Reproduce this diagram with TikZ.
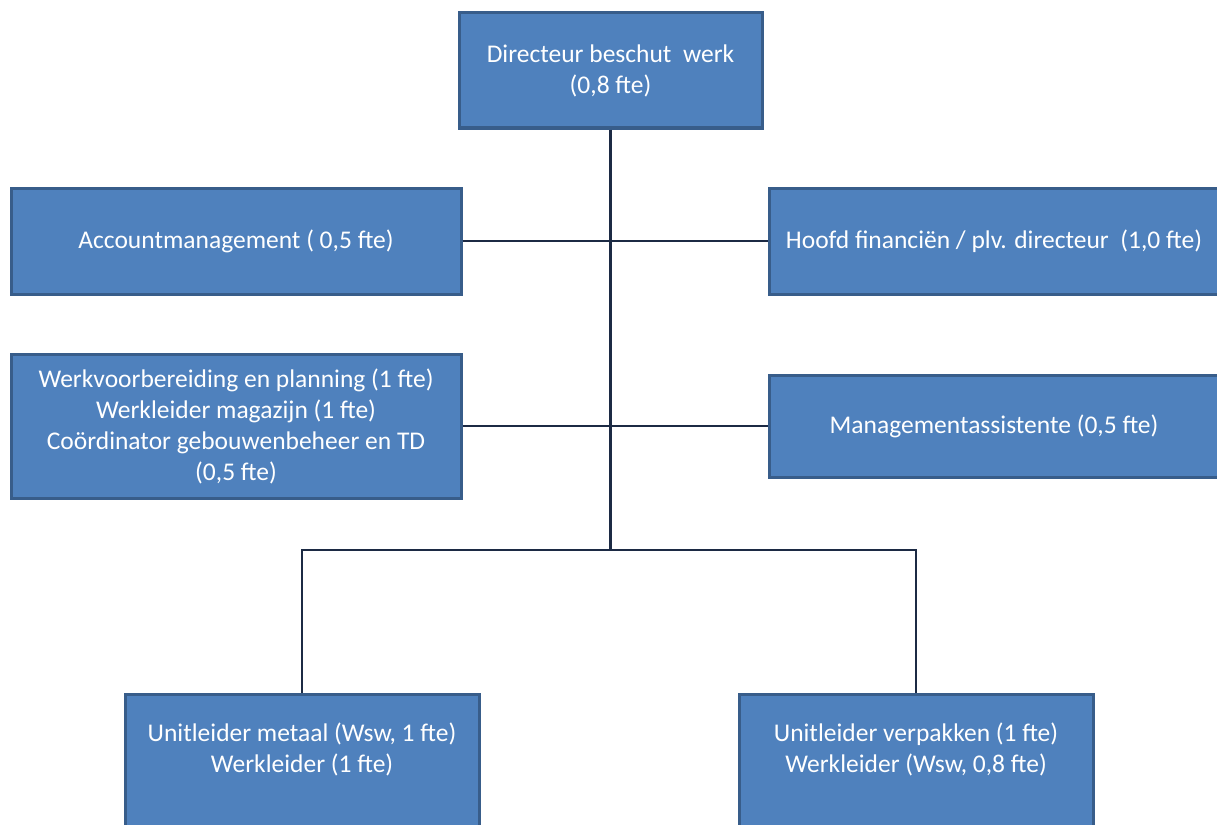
\documentclass[tikz,border=0pt]{standalone}
\usepackage{fontspec}
\setmainfont{Carlito}
\usepackage{tikz}
\usetikzlibrary{positioning}
\definecolor{BoxFill}{HTML}{4F81BD}
\definecolor{BoxLine}{HTML}{385D8A}
\definecolor{EdgeLine}{HTML}{1C2A44}
\tikzset{
  BoxStyle/.style={draw=BoxLine,fill=BoxFill,line width=3pt,text=white,
    align=center,inner sep=0pt,font=\fontsize{25.5}{31}\selectfont},
  EdgeStyle/.style={draw=EdgeLine,line width=2.8pt}
}

\begin{document}
\begin{tikzpicture}[x=1pt,y=-1pt]
    \useasboundingbox (0,0) rectangle (1217,824);
    \clip (0,0) rectangle (1217,824);

    \node[BoxStyle,minimum width=303pt,minimum height=115pt] (dir) at (610.5,70.5)
      {Directeur beschut\ \ werk\\(0,8 fte)};
    \node[BoxStyle,minimum width=450pt,minimum height=106pt] (acct) at (236,241)
      {Accountmanagement ( 0,5 fte)};
    \node[BoxStyle,minimum width=450pt,minimum height=106pt] (fin) at (994,241)
      {Hoofd financiën / plv. directeur\ \ (1,0 fte)};
    \node[BoxStyle,minimum width=450pt,minimum height=144pt] (wvb) at (236,426)
      {Werkvoorbereiding en planning (1 fte)\\Werkleider magazijn (1 fte)\\
       Coördinator gebouwenbeheer en TD\\(0,5 fte)};
    \node[BoxStyle,minimum width=450pt,minimum height=102pt] (mas) at (994,426)
      {Managementassistente (0,5 fte)};
    \node[BoxStyle,minimum width=354pt,anchor=north,inner ysep=28pt,text depth=150pt]
      (met) at (302,693) {Unitleider metaal (Wsw, 1 fte)\\Werkleider (1 fte)};
    \node[BoxStyle,minimum width=354pt,anchor=north,inner ysep=28pt,text depth=150pt]
      (vpk) at (916,693) {Unitleider verpakken (1 fte)\\Werkleider (Wsw, 0,8 fte)};

    \coordinate (bus) at (610,550);

    % lijnen
    \draw[EdgeStyle] (dir.south) -- (dir.south |- bus);
    \draw[EdgeStyle] (acct.east) -- (fin.west);
    \draw[EdgeStyle] (wvb.east) -- (mas.west);
    \draw[EdgeStyle] (met.north) |- (bus) -| (vpk.north);
\end{tikzpicture}
\end{document}
